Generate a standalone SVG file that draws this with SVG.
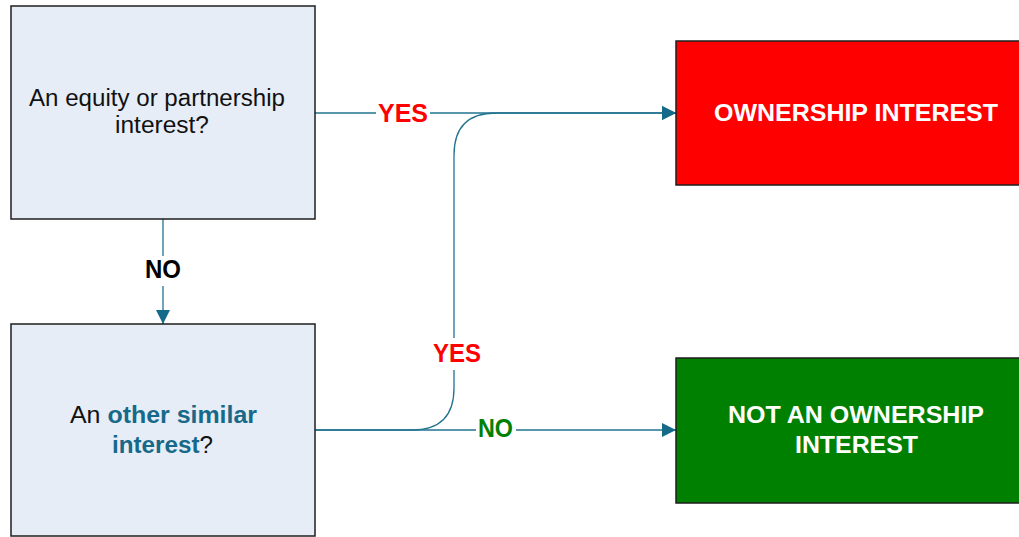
<svg xmlns="http://www.w3.org/2000/svg" width="1019" height="537" viewBox="0 0 1019 537">
<style>
.q{fill:#e6edf7;stroke:#1e1e1e;stroke-width:1.5}
.res{stroke:#1e1e1e;stroke-width:1.5}
.t{font-family:"Liberation Sans",Arial,sans-serif;text-anchor:middle}
.reg{font-size:23px;fill:#111}
.hl{fill:#17698a;font-weight:bold}
.w{fill:#fff;font-weight:bold;font-size:24px}
.lbl{font-weight:bold;font-size:25px}
.c{fill:none;stroke:#23738f;stroke-width:1.3}
.bg{fill:#fff}
</style>
<defs>
<marker id="arr" markerUnits="userSpaceOnUse" markerWidth="14" markerHeight="14" refX="14" refY="7" orient="auto">
<path d="M0,0 L14,7 L0,14 z" fill="#156a8a"/>
</marker>
</defs>
<rect width="1019" height="537" fill="#fff"/>
<g id="connectors">
<path class="c" d="M315,113 H676" marker-end="url(#arr)"/>
<path class="c" d="M315,430 H412 Q454,430 454,388 V155 Q454,113 496,113 H676" marker-end="url(#arr)"/>
<path class="c" d="M315,430 H676" marker-end="url(#arr)"/>
<path class="c" d="M163,219 V324" marker-end="url(#arr)"/>
<rect class="bg" x="376" y="100" width="54" height="26"/>
<text class="t lbl" x="403" y="122" fill="#ff0000" textLength="50" lengthAdjust="spacingAndGlyphs">YES</text>
<rect class="bg" x="143" y="256" width="40" height="30"/>
<text class="t lbl" x="163" y="278" fill="#000" textLength="36" lengthAdjust="spacingAndGlyphs">NO</text>
<rect class="bg" x="431" y="338" width="52" height="32"/>
<text class="t lbl" x="457" y="362" fill="#ff0000" textLength="48" lengthAdjust="spacingAndGlyphs">YES</text>
<rect class="bg" x="476" y="417" width="40" height="26"/>
<text class="t lbl" x="495.5" y="437" fill="#008000" textLength="35" lengthAdjust="spacingAndGlyphs">NO</text>
</g>
<g id="q1">
<rect class="q" x="11" y="6" width="304" height="213"/>
<text class="t reg" x="157" y="106" textLength="256" lengthAdjust="spacingAndGlyphs">An equity or partnership</text>
<text class="t reg" x="162" y="133" textLength="94" lengthAdjust="spacingAndGlyphs">interest?</text>
</g>
<g id="q2">
<rect class="q" x="11" y="324" width="304" height="212"/>
<text class="t reg" x="163.5" y="423" textLength="187" lengthAdjust="spacingAndGlyphs">An <tspan class="hl">other similar</tspan></text>
<text class="t reg" x="162.5" y="453" textLength="101" lengthAdjust="spacingAndGlyphs"><tspan class="hl">interest</tspan>?</text>
</g>
<g id="own">
<rect class="res" x="676" y="41" width="360" height="144" fill="#ff0000"/>
<text class="t w" x="856" y="121" textLength="284" lengthAdjust="spacingAndGlyphs">OWNERSHIP INTEREST</text>
</g>
<g id="notown">
<rect class="res" x="676" y="358" width="360" height="145" fill="#008000"/>
<text class="t w" x="856" y="423" textLength="256" lengthAdjust="spacingAndGlyphs">NOT AN OWNERSHIP</text>
<text class="t w" x="856.5" y="453" textLength="123" lengthAdjust="spacingAndGlyphs">INTEREST</text>
</g>
</svg>
